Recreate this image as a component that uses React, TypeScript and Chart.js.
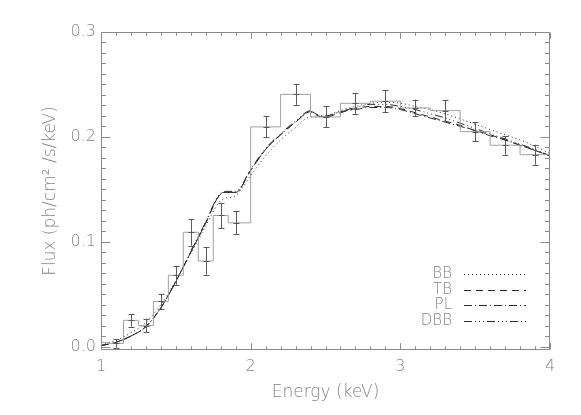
import React, { useEffect, useRef } from "react";
import { Chart, registerables } from "chart.js";

Chart.register(...registerables);

// ---- data ----
const binEnergies = [1.0, 1.1, 1.2, 1.3, 1.4, 1.5, 1.6, 1.7, 1.8, 1.9, 2.1, 2.3, 2.5, 2.7, 2.9, 3.1, 3.3, 3.5, 3.7, 3.9];
const fluxValues = [0.004, 0.003, 0.025, 0.020, 0.043, 0.068, 0.109, 0.0815, 0.125, 0.118, 0.2095, 0.2405, 0.219, 0.232, 0.234, 0.2275, 0.225, 0.205, 0.192, 0.183];
const fluxErrors = [0, 0.004, 0.006, 0.0065, 0.007, 0.009, 0.0128, 0.013, 0.012, 0.011, 0.010, 0.010, 0.010, 0.010, 0.0105, 0.008, 0.010, 0.009, 0.009, 0.0095];

const modelEnergies = [1.0, 1.1, 1.2, 1.3, 1.4, 1.5, 1.6, 1.7, 1.78, 1.82, 1.9, 2.0, 2.1, 2.2, 2.3, 2.4, 2.45, 2.5, 2.6, 2.7, 2.8, 2.9, 3.0, 3.1, 3.2, 3.3, 3.4, 3.5, 3.6, 3.7, 3.8, 3.9, 4.0];
const bbFlux = [0.002, 0.006, 0.013, 0.023, 0.040, 0.063, 0.089, 0.115, 0.136, 0.141, 0.144, 0.163, 0.182, 0.197, 0.209, 0.219, 0.219, 0.220, 0.225, 0.229, 0.232, 0.233, 0.232, 0.229, 0.226, 0.222, 0.217, 0.212, 0.207, 0.202, 0.197, 0.191, 0.184];
const tbFlux = [0.001, 0.004, 0.010, 0.019, 0.037, 0.062, 0.090, 0.118, 0.142, 0.147, 0.147, 0.168, 0.188, 0.202, 0.214, 0.224, 0.220, 0.219, 0.223, 0.227, 0.229, 0.229, 0.227, 0.223, 0.219, 0.215, 0.211, 0.206, 0.202, 0.197, 0.192, 0.187, 0.182];
const plFlux = [0.001, 0.004, 0.010, 0.019, 0.037, 0.062, 0.090, 0.118, 0.142, 0.147, 0.147, 0.168, 0.188, 0.202, 0.214, 0.224, 0.221, 0.220, 0.224, 0.226, 0.228, 0.228, 0.226, 0.222, 0.218, 0.214, 0.210, 0.206, 0.201, 0.197, 0.192, 0.187, 0.182];
const dbbFlux = [0.001, 0.004, 0.010, 0.019, 0.037, 0.062, 0.091, 0.119, 0.143, 0.148, 0.148, 0.169, 0.189, 0.203, 0.215, 0.225, 0.220, 0.219, 0.224, 0.228, 0.231, 0.231, 0.229, 0.226, 0.222, 0.218, 0.213, 0.208, 0.203, 0.198, 0.193, 0.188, 0.182];

const modelNames = ["BB", "TB", "PL", "DBB"];
const modelSeries = [bbFlux, tbFlux, plFlux, dbbFlux];

const xTickValues = [1, 2, 3, 4];
const yTickValues = [0.0, 0.1, 0.2, 0.3];
const xMin = 1, xMax = 4;
const yMin = -0.0033, yMax = 0.3;
const xMinorStep = 0.1;
const yMinorStep = 0.01;

const xTitle = "Energy (keV)";
const yTitle = "Flux (ph/cm\u00B2 /s/keV)";

// ---- styles ----
const modelDashes = [[1, 3], [7, 5], [8, 3, 1, 3], [8, 3, 1, 3, 1, 3, 1, 3]];
const AXIS = "#8a8a8a";
const TEXT = "#858585";
const CURVE = "#2a2a2a";
const HIST = "#a0a0a0";
const ERR = "#5a5a5a";
const FONT = "'DejaVu Sans', sans-serif";
const WEIGHT = "200";

const framePlugin = {
  id: "idlFrame",
  afterDraw(chart: any) {
    const { ctx, chartArea, scales } = chart;
    const { left, right, top, bottom } = chartArea;
    const xs = scales.x, ys = scales.y;
    ctx.save();
    ctx.strokeStyle = AXIS;
    ctx.lineWidth = 1;
    const L = Math.round(left) + 0.5, R = Math.round(right) - 0.5;
    const T = Math.round(top) + 0.5, B = Math.round(bottom) - 0.5;
    ctx.beginPath();
    ctx.rect(L, T, R - L, B - T);
    const xMaj = 0.02 * (bottom - top), yMaj = 0.02 * (right - left);
    const nx = Math.round((xMax - xMin) / xMinorStep);
    for (let i = 0; i <= nx; i++) {
      const v = xMin + i * xMinorStep;
      const isMaj = xTickValues.some((t) => Math.abs(t - v) < 1e-6);
      const len = isMaj ? xMaj : xMaj / 2;
      const px = Math.round(xs.getPixelForValue(v)) + 0.5;
      ctx.moveTo(px, B); ctx.lineTo(px, B - len);
      ctx.moveTo(px, T); ctx.lineTo(px, T + len);
    }
    const ny = Math.round((yTickValues[yTickValues.length - 1] - yTickValues[0]) / yMinorStep);
    for (let i = 0; i <= ny; i++) {
      const v = yTickValues[0] + i * yMinorStep;
      const isMaj = yTickValues.some((t) => Math.abs(t - v) < 1e-6);
      const len = isMaj ? yMaj : yMaj / 2;
      const py = Math.round(ys.getPixelForValue(v)) + 0.5;
      ctx.moveTo(L, py); ctx.lineTo(L + len, py);
      ctx.moveTo(R, py); ctx.lineTo(R - len, py);
    }
    ctx.stroke();
    ctx.restore();
  },
};

const errorBarPlugin = {
  id: "errBars",
  afterDatasetsDraw(chart: any) {
    const { ctx, scales, chartArea } = chart;
    const xs = scales.x, ys = scales.y;
    ctx.save();
    ctx.beginPath();
    ctx.rect(chartArea.left, chartArea.top, chartArea.right - chartArea.left, chartArea.bottom - chartArea.top);
    ctx.clip();
    ctx.strokeStyle = ERR;
    ctx.lineWidth = 1;
    ctx.beginPath();
    binEnergies.forEach((e, i) => {
      const err = fluxErrors[i];
      if (!err) return;
      const px = Math.round(xs.getPixelForValue(e)) + 0.5;
      const y1 = ys.getPixelForValue(fluxValues[i] + err);
      const y2 = ys.getPixelForValue(fluxValues[i] - err);
      const cap = 3;
      ctx.moveTo(px, y1); ctx.lineTo(px, y2);
      ctx.moveTo(px - cap, Math.round(y1) + 0.5); ctx.lineTo(px + cap, Math.round(y1) + 0.5);
      ctx.moveTo(px - cap, Math.round(y2) + 0.5); ctx.lineTo(px + cap, Math.round(y2) + 0.5);
      const yc = Math.round(ys.getPixelForValue(fluxValues[i])) + 0.5;
      ctx.moveTo(px - cap, yc); ctx.lineTo(px + cap, yc);
    });
    ctx.stroke();
    ctx.restore();
  },
};

const legendPlugin = {
  id: "idlLegend",
  afterDraw(chart: any) {
    const { ctx, chartArea } = chart;
    const textRight = chartArea.right - 98;
    const lineStart = chartArea.right - 86;
    const lineEnd = chartArea.right - 24;
    const top = chartArea.top + 242;
    const gap = 15.7;
    ctx.save();
    ctx.font = `${WEIGHT} 15px ${FONT}`;
    ctx.fillStyle = TEXT;
    ctx.textAlign = "right";
    ctx.textBaseline = "middle";
    modelNames.forEach((name, i) => {
      const y = top + i * gap;
      ctx.fillText(name, textRight, y);
      ctx.beginPath();
      ctx.setLineDash(modelDashes[i]);
      ctx.strokeStyle = CURVE;
      ctx.lineWidth = 1;
      ctx.moveTo(lineStart, Math.round(y) + 0.5);
      ctx.lineTo(lineEnd, Math.round(y) + 0.5);
      ctx.stroke();
    });
    ctx.restore();
  },
};

export default function App() {
  const ref = useRef<HTMLCanvasElement | null>(null);
  useEffect(() => {
    if (!ref.current) return;
    const histData = binEnergies.map((x, i) => ({ x, y: fluxValues[i] }));
    histData.push({ x: xMax, y: fluxValues[fluxValues.length - 1] });
    const datasets: any[] = [
      {
        label: "data",
        data: histData,
        stepped: "middle",
        borderColor: HIST,
        borderWidth: 1,
        pointRadius: 0,
        fill: false,
      },
      ...modelNames.map((name, k) => ({
        label: name,
        data: modelEnergies.map((x, i) => ({ x, y: modelSeries[k][i] })),
        borderColor: CURVE,
        borderWidth: 1,
        borderDash: modelDashes[k],
        pointRadius: 0,
        fill: false,
        cubicInterpolationMode: "monotone",
      })),
    ];
    const chart = new Chart(ref.current, {
      type: "line",
      data: { datasets },
      options: {
        animation: false,
        responsive: false,
        devicePixelRatio: 1,
        layout: { padding: { left: 0, top: 32, right: 31, bottom: 0 } },
        plugins: { legend: { display: false }, tooltip: { enabled: false } },
        scales: {
          x: {
            type: "linear",
            min: xMin,
            max: xMax,
            afterBuildTicks: (s: any) => { s.ticks = xTickValues.map((v) => ({ value: v })); },
            afterFit: (s: any) => { s.height = 65; },
            grid: { display: false, drawTicks: false },
            border: { display: false },
            ticks: { color: TEXT, font: { family: FONT, size: 16, weight: WEIGHT }, padding: 7, callback: (v: any) => String(v), maxRotation: 0 },
            title: { display: true, text: xTitle, color: TEXT, font: { family: FONT, size: 17, weight: WEIGHT }, padding: { top: 0, bottom: 12 } },
          },
          y: {
            type: "linear",
            min: yMin,
            max: yMax,
            afterBuildTicks: (s: any) => { s.ticks = yTickValues.map((v) => ({ value: v })); },
            afterFit: (s: any) => { s.width = 101; },
            grid: { display: false, drawTicks: false },
            border: { display: false },
            ticks: { color: TEXT, font: { family: FONT, size: 16, weight: WEIGHT }, padding: 5, callback: (v: any) => Number(v).toFixed(1) },
            title: { display: true, text: yTitle, color: TEXT, font: { family: FONT, size: 17, weight: WEIGHT }, padding: { top: 40, bottom: 0 } },
          },
        },
      },
      plugins: [framePlugin, errorBarPlugin, legendPlugin],
    });
    return () => chart.destroy();
  }, []);
  return (
    <div style={{ position: "fixed", left: 0, top: 0, width: 581, height: 415, background: "#fff" }}>
      <canvas ref={ref} width={581} height={415} style={{ display: "block", width: 581, height: 415 }} />
    </div>
  );
}
